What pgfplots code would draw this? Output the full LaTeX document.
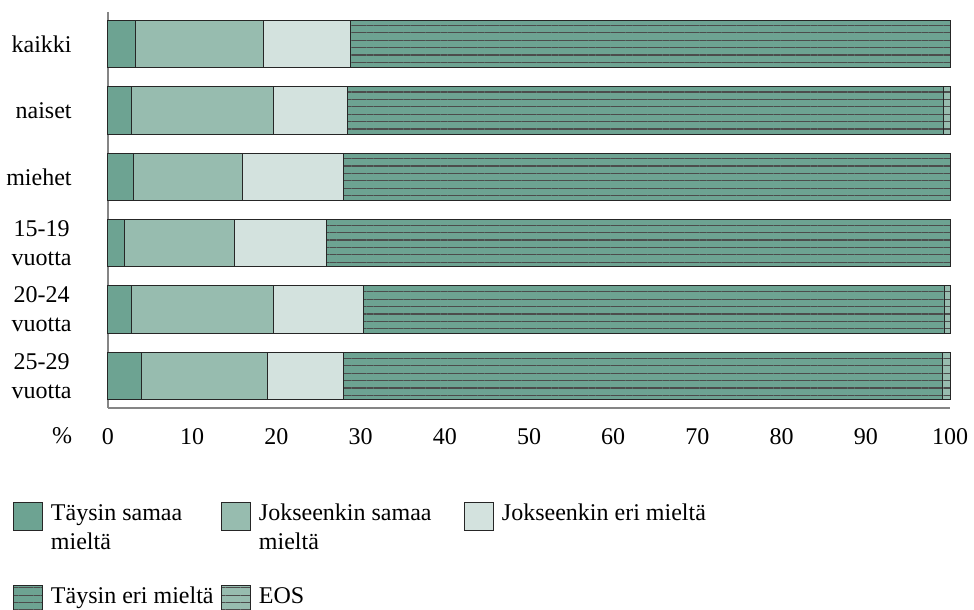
\documentclass[border=0pt,12pt]{standalone}
\usepackage{fontspec}
\setmainfont{Liberation Serif}
\usepackage{pgfplots}
\pgfplotsset{compat=1.18}
\usetikzlibrary{patterns.meta}
\definecolor{cA}{HTML}{6DA392}
\definecolor{cB}{HTML}{97BCAF}
\definecolor{cC}{HTML}{D3E2DE}
\definecolor{axgray}{HTML}{858585}
\pgfplotsset{
  sq legend/.style={legend image code/.code={\path[##1] (0pt,-5pt) rectangle (14.5pt,9pt);}},
  hl/.style={postaction={pattern={Lines[angle=0,distance=3.7pt,line width=0.6pt]}, pattern color=black!70}},
}
\begin{document}
\begin{tikzpicture}
\useasboundingbox (-54pt,-101pt) rectangle (433pt,204pt);
\begin{axis}[
  at={(0,0)}, anchor=south west,
  scale only axis, width=421pt, height=198pt,
  xbar stacked, bar width=0.716,
  xmin=0, xmax=100, ymin=-0.485, ymax=5.485, y dir=reverse,
  clip=false,
  axis x line*=bottom, axis y line*=left,
  axis line style={axgray, line width=0.7pt, -},
  xtick={0,10,...,100}, ytick={0,...,5},
  yticklabels={kaikki, naiset, miehet, {15-19\\vuotta}, {20-24\\vuotta}, {25-29\\vuotta}},
  yticklabel style={align=center, xshift=-14pt},
  xticklabel style={yshift=-6pt},
  /pgf/number format/assume math mode=true,
  major tick length=0pt,
  tick style={draw=none},
  legend columns=3,
  legend style={at={(axis description cs:0,0)}, anchor=north west, xshift=-47.5pt, yshift=-47pt,
    draw=none, fill=none, inner sep=0pt, outer sep=0pt, row sep=27pt,
    nodes={inner sep=0pt, anchor=base west},
    /tikz/every odd column/.append style={column sep=4pt}},
]
\addplot[fill=cA, draw=black!85, line width=0.5pt, sq legend] coordinates {(3.3,0) (2.8,1) (3.0,2) (2.0,3) (2.8,4) (4.0,5)};
\addlegendentry{\parbox[t]{85pt}{\raggedright Täysin samaa\\mieltä}}
\addplot[fill=cB, draw=black!85, line width=0.5pt, sq legend] coordinates {(15.2,0) (16.8,1) (13.0,2) (13.0,3) (16.8,4) (15.0,5)};
\addlegendentry{\parbox[t]{102.5pt}{\raggedright Jokseenkin samaa\\mieltä}}
\addplot[fill=cC, draw=black!85, line width=0.5pt, sq legend] coordinates {(10.3,0) (8.8,1) (12.0,2) (11.0,3) (10.8,4) (9.0,5)};
\addlegendentry{Jokseenkin eri mieltä}
\addplot[fill=cA, draw=black!85, line width=0.5pt, hl, sq legend] coordinates {(71.2,0) (70.8,1) (72.0,2) (74.0,3) (68.9,4) (71.1,5)};
\addlegendentry{Täysin eri mieltä}
\addplot[fill=cB, draw=black!85, line width=0.5pt, hl, sq legend] coordinates {(0,0) (0.8,1) (0,2) (0,3) (0.7,4) (0.9,5)};
\addlegendentry{EOS}
\node[anchor=base, xshift=-23pt, yshift=-17.5pt] at (axis description cs:0,0) {\%};
\end{axis}
\end{tikzpicture}
\end{document}
